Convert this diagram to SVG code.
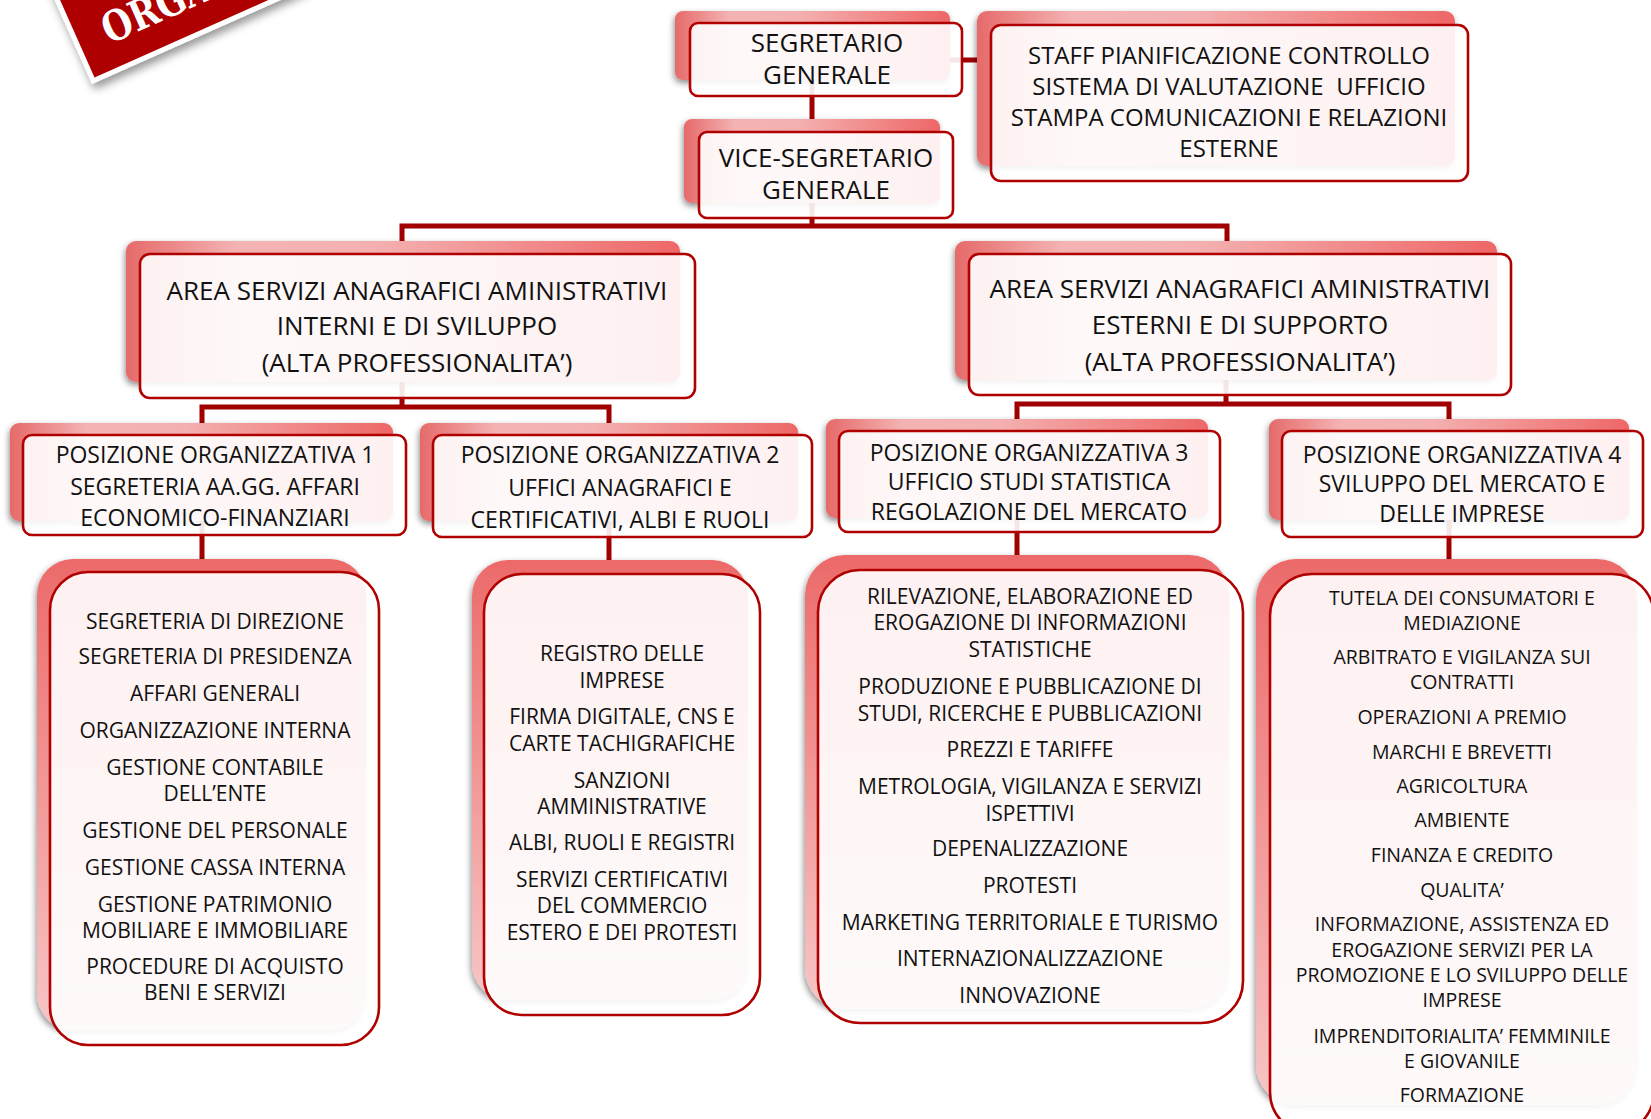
<svg xmlns="http://www.w3.org/2000/svg" width="1651" height="1119" viewBox="0 0 1651 1119">
<style>
.bk{fill:url(#gh);filter:url(#sh)}
.bl{fill:url(#gv);filter:url(#sh)}
.fr{fill:#ffffff;fill-opacity:0.9;stroke:#b00000;stroke-width:2.6}
.t{font-family:"Open Sans","DejaVu Sans",sans-serif;fill:#111;text-anchor:middle}
.h{font-size:26px}
.s{font-size:24px}
.p{font-size:23px}
.l{font-size:21px}
.l4{font-size:19.5px}
.cn{fill:none;stroke:#a00000;stroke-width:5}
</style>
<defs>
<linearGradient id="gh" x1="0" y1="0" x2="1" y2="0">
<stop offset="0" stop-color="#e66a6a"/>
<stop offset="0.2" stop-color="#f4b3b3"/>
<stop offset="0.45" stop-color="#f4b0b0"/>
<stop offset="1" stop-color="#ee6767"/>
</linearGradient>
<linearGradient id="gv" x1="0" y1="0" x2="0" y2="1">
<stop offset="0" stop-color="#ec6a6a"/>
<stop offset="1" stop-color="#f7c6c6"/>
</linearGradient>
<filter id="sh" x="-10%" y="-10%" width="120%" height="130%">
<feDropShadow dx="-1" dy="3" stdDeviation="3" flood-color="#000" flood-opacity="0.45"/>
</filter>
<filter id="bsh" x="-20%" y="-20%" width="140%" height="160%">
<feDropShadow dx="0" dy="6" stdDeviation="4" flood-color="#000" flood-opacity="0.4"/>
</filter>
</defs>
<rect width="1651" height="1119" fill="#ffffff"/>

<g id="banner" transform="translate(92,84) rotate(-24)">
<rect x="0" y="-140" width="620" height="140" fill="#ffffff" filter="url(#bsh)"/>
<rect x="5" y="-135" width="610" height="130" fill="#ae0000"/>
<text x="0" y="0" transform="translate(32,-29) scale(0.82,1)" font-family="'DejaVu Serif',serif" font-weight="bold" font-size="42" fill="#ffffff">ORGA</text>
</g>

<g id="connectors">
<path class="cn" d="M812 80V119"/>
<path class="cn" d="M950 60H991"/>
<path class="cn" d="M812 203V226M402 241V226H1227V241"/>
<path class="cn" d="M402 382V407M202 423V407H609V423"/>
<path class="cn" d="M1226 380V404M1017 419V404H1449V419"/>
<path class="cn" d="M202 521V559"/>
<path class="cn" d="M609 521V560"/>
<path class="cn" d="M1017 518V555"/>
<path class="cn" d="M1449 520V559"/>
</g>

<g id="segretario">
<rect class="bk" x="675" y="11" width="275" height="69" rx="8"/>
<rect class="fr" x="690" y="23" width="272" height="73" rx="8"/>
<text class="t h"><tspan x="827" y="52">SEGRETARIO</tspan><tspan x="827" y="84">GENERALE</tspan></text>
</g>

<g id="staff">
<rect class="bk" x="977" y="11" width="478" height="155" rx="10"/>
<rect class="fr" x="991" y="25" width="477" height="156" rx="10"/>
<text class="t s"><tspan x="1229" y="64">STAFF PIANIFICAZIONE CONTROLLO</tspan><tspan x="1229" y="95" xml:space="preserve">SISTEMA DI VALUTAZIONE  UFFICIO</tspan><tspan x="1229" y="126">STAMPA COMUNICAZIONI E RELAZIONI</tspan><tspan x="1229" y="157">ESTERNE</tspan></text>
</g>

<g id="vice">
<rect class="bk" x="684" y="119" width="256" height="84" rx="8"/>
<rect class="fr" x="699" y="132" width="254" height="86" rx="8"/>
<text class="t h"><tspan x="826" y="167">VICE-SEGRETARIO</tspan><tspan x="826" y="199">GENERALE</tspan></text>
</g>

<g id="area-interni">
<rect class="bk" x="126" y="241" width="554" height="141" rx="10"/>
<rect class="fr" x="140" y="254" width="555" height="144" rx="10"/>
<text class="t h"><tspan x="417" y="300">AREA SERVIZI ANAGRAFICI AMINISTRATIVI</tspan><tspan x="417" y="335">INTERNI E DI SVILUPPO</tspan><tspan x="417" y="372">(ALTA PROFESSIONALITA’)</tspan></text>
</g>

<g id="area-esterni">
<rect class="bk" x="955" y="241" width="542" height="139" rx="10"/>
<rect class="fr" x="969" y="254" width="542" height="141" rx="10"/>
<text class="t h"><tspan x="1240" y="298">AREA SERVIZI ANAGRAFICI AMINISTRATIVI</tspan><tspan x="1240" y="334">ESTERNI E DI SUPPORTO</tspan><tspan x="1240" y="371">(ALTA PROFESSIONALITA’)</tspan></text>
</g>

<g id="po1">
<rect class="bk" x="10" y="423" width="383" height="98" rx="9"/>
<rect class="fr" x="23" y="435" width="383" height="100" rx="9"/>
<text class="t p"><tspan x="215" y="463">POSIZIONE ORGANIZZATIVA 1</tspan><tspan x="215" y="495">SEGRETERIA AA.GG. AFFARI</tspan><tspan x="215" y="526">ECONOMICO-FINANZIARI</tspan></text>
</g>

<g id="po2">
<rect class="bk" x="420" y="423" width="378" height="98" rx="9"/>
<rect class="fr" x="433" y="435" width="379" height="102" rx="9"/>
<text class="t p"><tspan x="620" y="463">POSIZIONE ORGANIZZATIVA 2</tspan><tspan x="620" y="496">UFFICI ANAGRAFICI E</tspan><tspan x="620" y="528">CERTIFICATIVI, ALBI E RUOLI</tspan></text>
</g>

<g id="po3">
<rect class="bk" x="826" y="419" width="382" height="99" rx="9"/>
<rect class="fr" x="839" y="431" width="381" height="101" rx="9"/>
<text class="t p"><tspan x="1029" y="461">POSIZIONE ORGANIZZATIVA 3</tspan><tspan x="1029" y="490">UFFICIO STUDI STATISTICA</tspan><tspan x="1029" y="520">REGOLAZIONE DEL MERCATO</tspan></text>
</g>

<g id="po4">
<rect class="bk" x="1269" y="419" width="360" height="101" rx="9"/>
<rect class="fr" x="1282" y="431" width="361" height="106" rx="9"/>
<text class="t p"><tspan x="1462" y="463">POSIZIONE ORGANIZZATIVA 4</tspan><tspan x="1462" y="492">SVILUPPO DEL MERCATO E</tspan><tspan x="1462" y="522">DELLE IMPRESE</tspan></text>
</g>

<g id="list1">
<rect class="bl" x="37" y="559" width="329" height="471" rx="36"/>
<rect class="fr" x="50" y="572" width="329" height="473" rx="38"/>
<text class="t l"><tspan x="215" y="629">SEGRETERIA DI DIREZIONE</tspan><tspan x="215" y="664">SEGRETERIA DI PRESIDENZA</tspan><tspan x="215" y="701">AFFARI GENERALI</tspan><tspan x="215" y="738">ORGANIZZAZIONE INTERNA</tspan><tspan x="215" y="775">GESTIONE CONTABILE</tspan><tspan x="215" y="801">DELL’ENTE</tspan><tspan x="215" y="838">GESTIONE DEL PERSONALE</tspan><tspan x="215" y="875">GESTIONE CASSA INTERNA</tspan><tspan x="215" y="912">GESTIONE PATRIMONIO</tspan><tspan x="215" y="938">MOBILIARE E IMMOBILIARE</tspan><tspan x="215" y="974">PROCEDURE DI ACQUISTO</tspan><tspan x="215" y="1000">BENI E SERVIZI</tspan></text>
</g>

<g id="list2">
<rect class="bl" x="472" y="560" width="276" height="440" rx="36"/>
<rect class="fr" x="484" y="574" width="276" height="441" rx="38"/>
<text class="t l"><tspan x="622" y="661">REGISTRO DELLE</tspan><tspan x="622" y="688">IMPRESE</tspan><tspan x="622" y="724">FIRMA DIGITALE, CNS E</tspan><tspan x="622" y="751">CARTE TACHIGRAFICHE</tspan><tspan x="622" y="788">SANZIONI</tspan><tspan x="622" y="814">AMMINISTRATIVE</tspan><tspan x="622" y="850">ALBI, RUOLI E REGISTRI</tspan><tspan x="622" y="887">SERVIZI CERTIFICATIVI</tspan><tspan x="622" y="913">DEL COMMERCIO</tspan><tspan x="622" y="940">ESTERO E DEI PROTESTI</tspan></text>
</g>

<g id="list3">
<rect class="bl" x="805" y="555" width="424" height="454" rx="40"/>
<rect class="fr" x="818" y="570" width="425" height="453" rx="42"/>
<text class="t l"><tspan x="1030" y="604">RILEVAZIONE, ELABORAZIONE ED</tspan><tspan x="1030" y="630">EROGAZIONE DI INFORMAZIONI</tspan><tspan x="1030" y="657">STATISTICHE</tspan><tspan x="1030" y="694">PRODUZIONE E PUBBLICAZIONE DI</tspan><tspan x="1030" y="721">STUDI, RICERCHE E PUBBLICAZIONI</tspan><tspan x="1030" y="757">PREZZI E TARIFFE</tspan><tspan x="1030" y="794">METROLOGIA, VIGILANZA E SERVIZI</tspan><tspan x="1030" y="821">ISPETTIVI</tspan><tspan x="1030" y="856">DEPENALIZZAZIONE</tspan><tspan x="1030" y="893">PROTESTI</tspan><tspan x="1030" y="930">MARKETING TERRITORIALE E TURISMO</tspan><tspan x="1030" y="966">INTERNAZIONALIZZAZIONE</tspan><tspan x="1030" y="1003">INNOVAZIONE</tspan></text>
</g>

<g id="list4">
<rect class="bl" x="1256" y="559" width="381" height="546" rx="40"/>
<rect class="fr" x="1270" y="574" width="384" height="560" rx="42"/>
<text class="t l4"><tspan x="1462" y="605">TUTELA DEI CONSUMATORI E</tspan><tspan x="1462" y="630">MEDIAZIONE</tspan><tspan x="1462" y="664">ARBITRATO E VIGILANZA SUI</tspan><tspan x="1462" y="689">CONTRATTI</tspan><tspan x="1462" y="724">OPERAZIONI A PREMIO</tspan><tspan x="1462" y="759">MARCHI E BREVETTI</tspan><tspan x="1462" y="793">AGRICOLTURA</tspan><tspan x="1462" y="827">AMBIENTE</tspan><tspan x="1462" y="862">FINANZA E CREDITO</tspan><tspan x="1462" y="897">QUALITA’</tspan><tspan x="1462" y="931">INFORMAZIONE, ASSISTENZA ED</tspan><tspan x="1462" y="957">EROGAZIONE SERVIZI PER LA</tspan><tspan x="1462" y="982">PROMOZIONE E LO SVILUPPO DELLE</tspan><tspan x="1462" y="1007">IMPRESE</tspan><tspan x="1462" y="1043">IMPRENDITORIALITA’ FEMMINILE</tspan><tspan x="1462" y="1068">E GIOVANILE</tspan><tspan x="1462" y="1102">FORMAZIONE</tspan></text>
</g>
</svg>
